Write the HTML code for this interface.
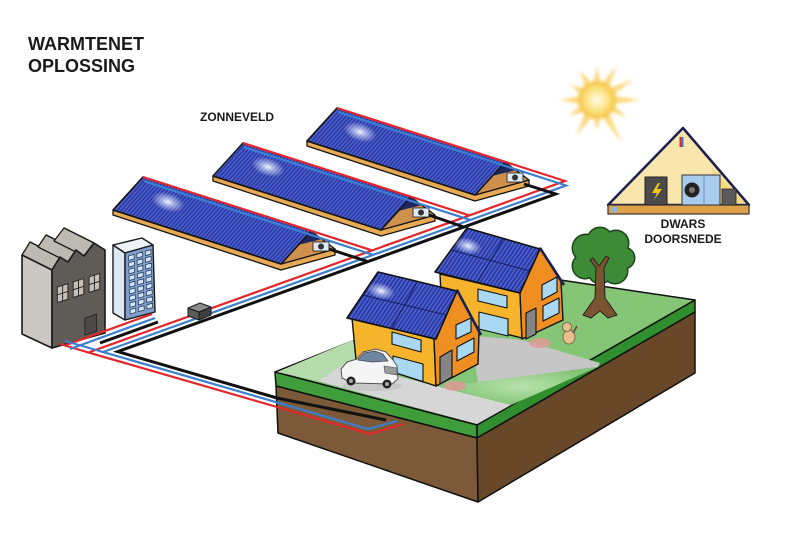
<!DOCTYPE html>
<html><head><meta charset="utf-8"><style>
html,body{margin:0;padding:0;background:#fff;}
svg{display:block;}
text{font-family:"Liberation Sans",Arial,sans-serif;font-weight:bold;fill:#1a1a1a;}
</style></head><body>
<svg width="800" height="559" viewBox="0 0 800 559" xmlns="http://www.w3.org/2000/svg">
<defs>
<pattern id="ps" width="4" height="10" patternUnits="userSpaceOnUse" patternTransform="skewX(-42)"><rect width="4" height="10" fill="#2a3aa6"/><rect width="1.6" height="10" fill="#5468d2"/></pattern>
<pattern id="hs" width="4" height="10" patternUnits="userSpaceOnUse" patternTransform="skewX(-34)"><rect width="4" height="10" fill="#2a3aa6"/><rect width="1.6" height="10" fill="#5468d2"/></pattern>
<radialGradient id="gl"><stop offset="0" stop-color="#fff" stop-opacity=".95"/><stop offset=".45" stop-color="#dfe6ff" stop-opacity=".55"/><stop offset="1" stop-color="#fff" stop-opacity="0"/></radialGradient>
<radialGradient id="sun"><stop offset="0" stop-color="#fffbea"/><stop offset=".55" stop-color="#fde58a"/><stop offset="1" stop-color="#f6c241"/></radialGradient>
<radialGradient id="lg" cx=".5" cy=".5" r=".5"><stop offset="0" stop-color="#b9e2ae"/><stop offset="1" stop-color="#84c676"/></radialGradient>
<filter id="blur" x="-30%" y="-30%" width="160%" height="160%"><feGaussianBlur stdDeviation="1.6"/></filter>
</defs>

<!-- titles -->
<text x="28" y="50" font-size="18">WARMTENET</text>
<text x="28" y="72" font-size="18">OPLOSSING</text>
<text x="200" y="121" font-size="12">ZONNEVELD</text>

<!-- sun -->
<g filter="url(#blur)">
<polygon points="641,100 612.5,95.9 633.4,79 608.3,88.7 617,65.4 601.1,84.5 597,66 592.9,84.5 580,70.6 585.7,88.7 571,85 581.5,95.9 559,100 581.5,104.1 569.3,116 585.7,111.3 576,136.4 592.9,115.5 597,130 601.1,115.5 622,143.3 608.3,111.3 626.4,117 612.5,104.1" fill="#f9cf5e" opacity=".8"/>
<circle cx="597" cy="100" r="19" fill="url(#sun)"/>
</g>

<!-- cross section -->
<polygon points="683,128 608,205 749,205" fill="#f8e6ac" stroke="#1b2050" stroke-width="2.5" stroke-linejoin="round"/>
<polygon points="712,168 745,203 716,203" fill="#f3d36a" opacity=".7"/>
<rect x="608" y="205" width="141" height="9" fill="#dfa04a" stroke="#333" stroke-width="1.2"/>
<rect x="611" y="207" width="6" height="5" fill="#8ab8e0"/>
<rect x="645" y="177" width="22" height="28" fill="#4a4a4a" stroke="#222" stroke-width="1"/>
<polygon points="658,183 652,193 657,193 654,200 662,189 657,189 660,183" fill="#f5c518"/>
<rect x="682" y="175" width="38" height="30" fill="#a9cbee" stroke="#333" stroke-width="1"/>
<line x1="704" y1="175" x2="704" y2="205" stroke="#6f8fb5" stroke-width="1"/>
<circle cx="692" cy="190" r="7.5" fill="#222"/>
<circle cx="692" cy="190" r="3" fill="#777"/>
<rect x="722" y="189" width="14" height="16" fill="#5a5a5a" stroke="#222" stroke-width=".8"/>
<rect x="679.5" y="137" width="2" height="10" fill="#e4262b"/>
<rect x="681.5" y="137" width="2" height="10" fill="#3b7fd0"/>
<text x="683" y="228" font-size="12" text-anchor="middle">DWARS</text>
<text x="683" y="243" font-size="12" text-anchor="middle">DOORSNEDE</text>

<!-- solar rows -->
<g stroke="#151515" stroke-width="1.3" stroke-linejoin="round">
<!-- row 3 -->
<polygon points="307,141 475,195 529,180 529,186 475,201 307,146" fill="#e8a955"/>
<polygon points="505,162 475,195 529,180" fill="#cf8f4d"/>
<polygon points="505,162 492,176 516,170" fill="#1e2660" stroke="none"/>
<rect x="507" y="173" width="16" height="9" fill="#dbeaf6" stroke-width=".8"/>
<circle cx="515" cy="177.5" r="3" fill="#333" stroke="none"/>
<polygon points="337,108 505,162 475,195 307,141" fill="url(#ps)" stroke-width="1.6"/>
<!-- row 2 -->
<polygon points="213,176 381,230 435,215 435,221 381,236 213,181" fill="#e8a955"/>
<polygon points="411,197 381,230 435,215" fill="#cf8f4d"/>
<polygon points="411,197 398,211 422,205" fill="#1e2660" stroke="none"/>
<rect x="413" y="208" width="16" height="9" fill="#dbeaf6" stroke-width=".8"/>
<circle cx="421" cy="212.5" r="3" fill="#333" stroke="none"/>
<polygon points="243,143 411,197 381,230 213,176" fill="url(#ps)" stroke-width="1.6"/>
<!-- row 1 -->
<polygon points="113,210 281,264 335,249 335,255 281,270 113,215" fill="#e8a955"/>
<polygon points="311,231 281,264 335,249" fill="#cf8f4d"/>
<polygon points="311,231 298,245 322,239" fill="#1e2660" stroke="none"/>
<rect x="313" y="242" width="16" height="9" fill="#dbeaf6" stroke-width=".8"/>
<circle cx="321" cy="246.5" r="3" fill="#333" stroke="none"/>
<polygon points="143,177 311,231 281,264 113,210" fill="url(#ps)" stroke-width="1.6"/>
</g>
<ellipse cx="168" cy="202" rx="17" ry="9" fill="url(#gl)" transform="rotate(18 168 202)"/>
<ellipse cx="268" cy="167" rx="17" ry="9" fill="url(#gl)" transform="rotate(18 268 167)"/>
<ellipse cx="360" cy="132" rx="17" ry="9" fill="url(#gl)" transform="rotate(18 360 132)"/>

<!-- factory -->
<g stroke="#1a1a1a" stroke-width="1.3" stroke-linejoin="round">
<polygon points="60,257 68,262 38,247 30,242" fill="#a29e98"/>
<polygon points="76,250 84,256 54,241 46,235" fill="#a29e98"/>
<polygon points="94,243 105,250 75,235 64,228" fill="#a29e98"/>
<polygon points="52,270 60,257 30,242 22,255" fill="#bdb9b3"/>
<polygon points="68,262 76,250 46,235 38,247" fill="#bdb9b3"/>
<polygon points="84,256 94,243 64,228 54,241" fill="#bdb9b3"/>
<polygon points="22,255 52,270 52,348 22,334" fill="#cbc7c2" stroke-width="1.6"/>
<polygon points="52,270 60,257 68,262 76,250 84,256 94,243 105,250 105,333 52,348" fill="#5f5b57" stroke-width="1.6"/>
</g>
<g transform="matrix(53,-17,0,78,52,270)" fill="#c7c0b6" stroke="#2a2a2a" stroke-width="1">
<rect x=".1" y=".24" width=".2" height=".2" vector-effect="non-scaling-stroke"/>
<rect x=".4" y=".24" width=".2" height=".2" vector-effect="non-scaling-stroke"/>
<rect x=".7" y=".24" width=".2" height=".2" vector-effect="non-scaling-stroke"/>
<path d="M.2 .24V.44M.1 .34H.3M.5 .24V.44M.4 .34H.6M.8 .24V.44M.7 .34H.9" fill="none" vector-effect="non-scaling-stroke"/>
<rect x=".62" y=".75" width=".22" height=".22" fill="#4d4945" vector-effect="non-scaling-stroke"/>
</g>

<!-- office building -->
<g stroke="#1a1a1a" stroke-width="1.4" stroke-linejoin="round">
<polygon points="113,245 125,253 125,320 113,313" fill="#dde8f5"/>
<polygon points="113,245 142,238 153,245 125,253" fill="#eef3fa"/>
<polygon points="125,253 153,245 155,312 125,320" fill="#7f9fca"/>
</g>
<g transform="matrix(28,-8,2,67,125,253)" fill="#d4e6f7" stroke="#1f2d4d" stroke-width=".7">
<path vector-effect="non-scaling-stroke" d="M.12 .06h.2v.065h-.2zM.42 .06h.2v.065h-.2zM.72 .06h.2v.065h-.2zM.12 .16h.2v.065h-.2zM.42 .16h.2v.065h-.2zM.72 .16h.2v.065h-.2zM.12 .26h.2v.065h-.2zM.42 .26h.2v.065h-.2zM.72 .26h.2v.065h-.2zM.12 .36h.2v.065h-.2zM.42 .36h.2v.065h-.2zM.72 .36h.2v.065h-.2zM.12 .46h.2v.065h-.2zM.42 .46h.2v.065h-.2zM.72 .46h.2v.065h-.2zM.12 .56h.2v.065h-.2zM.42 .56h.2v.065h-.2zM.72 .56h.2v.065h-.2zM.12 .66h.2v.065h-.2zM.42 .66h.2v.065h-.2zM.72 .66h.2v.065h-.2zM.12 .76h.2v.065h-.2zM.42 .76h.2v.065h-.2zM.72 .76h.2v.065h-.2zM.12 .86h.2v.065h-.2zM.42 .86h.2v.065h-.2zM.72 .86h.2v.065h-.2z"/>
</g>

<!-- ground block -->
<g stroke="#111" stroke-width="1.5" stroke-linejoin="round">
<polygon points="275,372 477,425 695,300 520,274" fill="#84c676"/>
<polygon points="275,372 477,425 477,438 276,386" fill="#3f9d3b"/>
<polygon points="276,386 477,438 478,502 278,433" fill="#7c5a39"/>
<polygon points="477,425 695,300 695,312 477,438" fill="#2f8f2f"/>
<polygon points="477,438 695,312 695,373 478,502" fill="#684829"/>
</g>
<polygon points="277,372 353,340 358,360 345,364 318,381" fill="#b5ddab"/>
<polygon points="318,381 477,424 511,405 345,363" fill="#d6d6d6"/>
<polygon points="476,336 522,340 600,363 598,367 478,382 476,370" fill="#c6c6c6"/>
<polygon points="443,386 511,405 598,367 478,382" fill="url(#lg)"/>
<ellipse cx="455" cy="386" rx="11" ry="5" fill="#df9a96" opacity=".85"/>
<ellipse cx="540" cy="343" rx="11" ry="5" fill="#df9a96" opacity=".85"/>

<!-- pipes -->
<g fill="none" stroke-linejoin="miter" stroke-linecap="butt">
<g stroke="#e4262b" stroke-width="2.2">
<polyline points="337,108 565,181 88.5,352.5 277,407 370,434 403,424"/>
<polyline points="60,344 88.5,352.5"/>
<polyline points="143,177 372.3,250.4"/>
<polyline points="243,143 469.4,215.4"/>
<polyline points="152,314 66,345"/>
</g>
<g stroke="#3b7fd0" stroke-width="2.2">
<polyline points="338,112 566,185.5 103,352 277,402.4 368,429 397,421"/>
<polyline points="65,341 103,352"/>
<polyline points="144,181.2 373.2,254.9"/>
<polyline points="244,147.2 470.2,219.9"/>
<polyline points="155,318 70,349"/>
</g>
<g stroke="#111" stroke-width="3">
<polyline points="524,184 555.6,194 117.7,351.6 277,398 386,420"/>
<polyline points="329,249 367.7,261.6"/>
<polyline points="429,215 463.8,227"/>
<polyline points="158,322 100,343"/>
</g>
</g>
<!-- junction box -->
<g stroke="#1a1a1a" stroke-width="1" stroke-linejoin="round">
<polygon points="188,308 199,312 199,320 188,316" fill="#5a5a5a"/>
<polygon points="199,312 211,307 211,315 199,320" fill="#3f3f3f"/>
<polygon points="188,308 200,303 211,307 199,312" fill="#8c8c8c"/>
</g>

<!-- tree -->
<g fill="#1b4319">
<circle cx="586" cy="248" r="14.5"/><circle cx="600" cy="240" r="13.5"/><circle cx="616" cy="243" r="13.5"/><circle cx="624" cy="258" r="11.5"/><circle cx="615" cy="271" r="13.5"/><circle cx="600" cy="272" r="12.5"/><circle cx="585" cy="266" r="13.5"/>
</g>
<g fill="#3d8b36">
<circle cx="586" cy="248" r="13"/><circle cx="600" cy="240" r="12"/><circle cx="616" cy="243" r="12"/><circle cx="624" cy="258" r="10"/><circle cx="615" cy="271" r="12"/><circle cx="600" cy="272" r="11"/><circle cx="585" cy="266" r="12"/><circle cx="603" cy="256" r="16"/>
</g>
<path d="M596,268 L590,260 L593,258 L599,266 L602,262 L606,256 L609,258 L604,268 L605,298 L617,315 L608,318 L600,311 L591,318 L583,315 L595,298 Z" fill="#7a5330" stroke="#222" stroke-width="1" stroke-linejoin="round"/>

<!-- dog -->
<ellipse cx="569" cy="337" rx="6" ry="7" fill="#e9c08d" stroke="#6b5a45" stroke-width=".8"/>
<circle cx="567" cy="327" r="4.5" fill="#e9c08d" stroke="#6b5a45" stroke-width=".8"/>
<path d="M573,333 L577,326" stroke="#6b5a45" stroke-width="2"/>

<!-- house 2 -->
<g stroke="#111" stroke-width="1.4" stroke-linejoin="round">
<polygon points="440,274 520,293 522,338 442,318" fill="#f6b42c"/>
<polygon points="520,293 540,248 561,282 563,320 522,339" fill="#ef8f22"/>
<g fill="#a9d8f3" stroke-width="1.1">
<polygon points="478,289 507,296 507,308 478,301"/>
<polygon points="479,312 508,319 508,336 479,329"/>
<polygon points="542,285 557,277 557,292 542,300"/>
<polygon points="543,306 559,298 559,313 543,321"/>
</g>
<polygon points="526,313 536,308 536,334 526,339" fill="#858585" stroke-width="1.1"/>
<polygon points="467,228 540,249 520,293 435,272" fill="url(#hs)" stroke-width="1.6"/>
<path d="M451,250 L530,271 M503.5,238.5 L477.5,282.5" stroke="#14205a" stroke-width="1" fill="none"/>
<path d="M540,248 L564,285" stroke="#1a2050" stroke-width="2.6" fill="none"/>
</g>
<ellipse cx="468" cy="246" rx="14" ry="8" fill="url(#gl)" transform="rotate(15 468 246)"/>

<!-- house 1 -->
<g stroke="#111" stroke-width="1.4" stroke-linejoin="round">
<polygon points="352,318 434,339 436,386 356,360" fill="#f6b42c"/>
<polygon points="434,339 457,290 479,332 478,364 436,386" fill="#ef8f22"/>
<g fill="#a9d8f3" stroke-width="1.1">
<polygon points="392,332 421,340 421,352 392,344"/>
<polygon points="393,356 423,364 423,381.5 393,372"/>
<polygon points="456,325 471,318 471,332 456,339"/>
<polygon points="457,347 474,338 474,352 457,361"/>
</g>
<polygon points="440,357 452,350 452,377 440,384" fill="#858585" stroke-width="1.1"/>
<polygon points="378,272 457,291 436,339 347,318" fill="url(#hs)" stroke-width="1.6"/>
<path d="M362.5,295 L446.5,315 M417.5,281.5 L391.5,328.5" stroke="#14205a" stroke-width="1" fill="none"/>
<path d="M457,290 L481,335" stroke="#1a2050" stroke-width="2.6" fill="none"/>
</g>
<ellipse cx="381" cy="291" rx="14" ry="8" fill="url(#gl)" transform="rotate(15 381 291)"/>

<!-- car -->
<ellipse cx="372" cy="386" rx="30" ry="5" fill="#bdbdbd" opacity=".6"/>
<path d="M342,378 L341,369 L347,362 L357,359 L363,352 L376,349 L386,352 L393,360 L397,366 L398,379 L392,384 L352,383 Z" fill="#f5f5f5" stroke="#555" stroke-width="1" stroke-linejoin="round"/>
<polygon points="358,360 364,353 375,351 383,354 388,361 372,362" fill="#6f86a3" stroke="#444" stroke-width=".7"/>
<path d="M384,366 L397,368 L397,375 L385,373 Z" fill="#9a9a9a" stroke="#444" stroke-width=".6"/>
<circle cx="351" cy="381" r="4.5" fill="#222"/><circle cx="351" cy="381" r="2" fill="#aaa"/>
<circle cx="387" cy="384" r="4.5" fill="#222"/><circle cx="387" cy="384" r="2" fill="#aaa"/>
</svg>
</body></html>
